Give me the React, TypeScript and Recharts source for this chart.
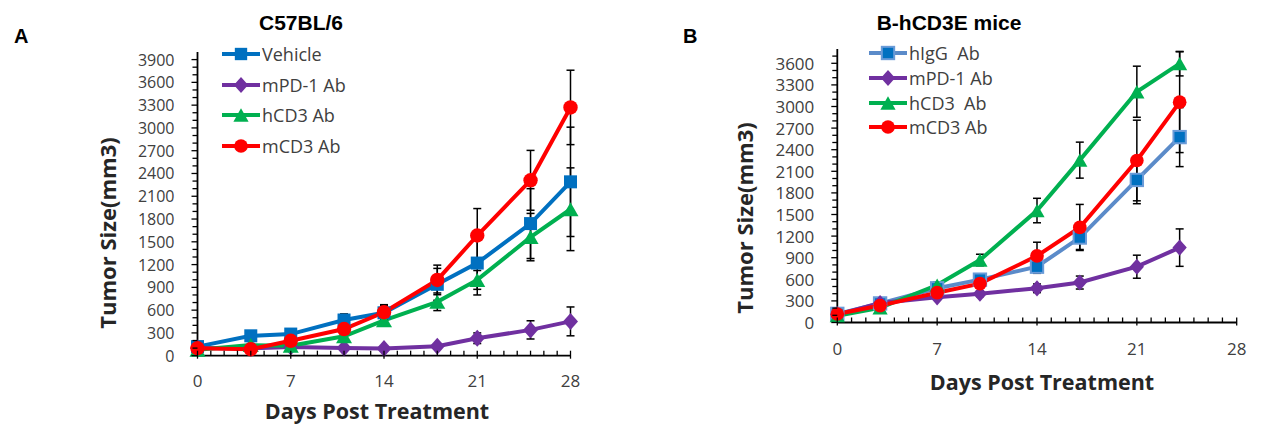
import React from 'react'
import { LineChart, Line, XAxis, YAxis, ErrorBar, Legend } from 'recharts'

// Panel A: C57BL/6
const daysA = [0, 4, 7, 11, 14, 18, 21, 25, 28]
const vehicleA = [120, 262, 285, 470, 565, 940, 1220, 1740, 2290]
const vehicleErrA = [20, 30, 30, 80, 100, 210, 420, 460, 720]
const mpd1A = [100, 95, 115, 100, 95, 125, 230, 340, 452]
const mpd1ErrA = [20, 20, 20, 20, 20, 30, 70, 120, 190]
const hcd3A = [78, 140, 130, 255, 466, 710, 998, 1562, 1929]
const hcd3ErrA = [20, 20, 20, 40, 60, 116, 124, 312, 545]
const mcd3A = [98, 85, 196, 351, 572, 998, 1583, 2310, 3270]
const mcd3ErrA = [20, 20, 30, 50, 100, 195, 355, 394, 490]

// Panel B: B-hCD3E mice
const daysB = [0, 3, 7, 10, 14, 17, 21, 24]
const higgB = [120, 265, 475, 595, 775, 1180, 1980, 2575]
const higgErrB = [20, 30, 40, 40, 92, 166, 330, 410]
const mpd1B = [110, 270, 350, 400, 475, 555, 775, 1040]
const mpd1ErrB = [20, 30, 30, 40, 60, 90, 160, 260]
const hcd3B = [95, 205, 520, 868, 1555, 2255, 3205, 3595]
const hcd3ErrB = [20, 30, 40, 80, 170, 250, 355, 170]
const mcd3B = [118, 235, 414, 540, 925, 1320, 2250, 3060]
const mcd3ErrB = [20, 30, 40, 50, 190, 320, 560, 700]

// axis labels
const yLabelsA = [0, 300, 600, 900, 1200, 1500, 1800, 2100, 2400, 2700, 3000, 3300, 3600, 3900]
const yLabelsB = [0, 300, 600, 900, 1200, 1500, 1800, 2100, 2400, 2700, 3000, 3300, 3600]
const xLabels = [0, 7, 14, 21, 28]

const minorY = (max: number) => Array.from({ length: max / 100 + 1 }, (_, i) => i * 100)
const minorX = Array.from({ length: 29 }, (_, i) => i)

const FONT = "'Open Sans', 'Noto Sans', sans-serif"
const TITLE_FONT = "'Liberation Sans', Arial, sans-serif"
const TEXT = '#404040'

const dataA = daysA.map((d, i) => ({
  day: d,
  vehicle: vehicleA[i], vehicleErr: vehicleErrA[i],
  mpd1: mpd1A[i], mpd1Err: mpd1ErrA[i],
  hcd3: hcd3A[i], hcd3Err: hcd3ErrA[i],
  mcd3: mcd3A[i], mcd3Err: mcd3ErrA[i],
}))

const dataB = daysB.map((d, i) => ({
  day: d,
  higg: higgB[i], higgErr: higgErrB[i],
  mpd1: mpd1B[i], mpd1Err: mpd1ErrB[i],
  hcd3: hcd3B[i], hcd3Err: hcd3ErrB[i],
  mcd3: mcd3B[i], mcd3Err: mcd3ErrB[i],
}))

type Shape = 'square' | 'diamond' | 'triangle' | 'circle'

function Marker({ shape, cx, cy, fill, stroke, s = 1 }: { shape: Shape; cx: number; cy: number; fill: string; stroke?: string; s?: number }) {
  if (shape === 'square') {
    const h = 6.5 * s
    return <rect x={cx - h} y={cy - h} width={h * 2} height={h * 2} fill={fill} stroke={stroke || 'none'} strokeWidth={stroke ? 2 : 0} />
  }
  if (shape === 'diamond') {
    const w = 7.5 * s, h = 8.5 * s
    return <polygon points={`${cx},${cy - h} ${cx + w},${cy} ${cx},${cy + h} ${cx - w},${cy}`} fill={fill} />
  }
  if (shape === 'triangle') {
    const w = 8 * s, h = 7 * s
    return <polygon points={`${cx},${cy - h} ${cx + w},${cy + h} ${cx - w},${cy + h}`} fill={fill} />
  }
  return <circle cx={cx} cy={cy} r={7.2 * s} fill={fill} />
}

const dotFn = (shape: Shape, fill: string, stroke?: string, s = 1) => (p: any) => (
  <Marker key={`${shape}-${p.index}`} shape={shape} cx={p.cx} cy={p.cy} fill={fill} stroke={stroke} s={s} />
)

const makeYTick = (labels: number[], fontSize: number) => (props: any) => {
  const { x, y, payload } = props
  const major = labels.includes(payload.value)
  return (
    <g>
      <line x1={x - (major ? 6 : 5)} x2={x} y1={y} y2={y} stroke="#000" strokeWidth={1.3} />
      {major && (
        <text x={x - 23} y={y} textAnchor="end" dominantBaseline="central" fontSize={fontSize} fill={TEXT} fontFamily={FONT}>
          {payload.value}
        </text>
      )}
    </g>
  )
}

const makeXTick = (fontSize: number, dy: number) => (props: any) => {
  const { x, y, payload } = props
  const major = xLabels.includes(payload.value)
  return (
    <g>
      <line x1={x} x2={x} y1={y - 5} y2={y + (major ? 3 : 0)} stroke="#000" strokeWidth={1.3} />
      {major && (
        <text x={x} y={y + dy} textAnchor="middle" dominantBaseline="central" fontSize={fontSize} fill={TEXT} fontFamily={FONT}>
          {payload.value}
        </text>
      )}
    </g>
  )
}

interface Item { name: string; color: string; shape: Shape; fill: string; stroke?: string }

const makeLegend = (items: Item[], rowH: number) => () => (
  <div style={{ fontFamily: FONT, fontSize: 18, color: TEXT }}>
    {items.map((it) => (
      <div key={it.name} style={{ display: 'flex', alignItems: 'center', height: rowH, whiteSpace: 'pre' }}>
        <svg width={40} height={20} style={{ display: 'block' }}>
          <line x1={1} x2={39} y1={10} y2={10} stroke={it.color} strokeWidth={4} />
          <Marker shape={it.shape} cx={20} cy={10} fill={it.fill} stroke={it.stroke} s={0.95} />
        </svg>
        <span style={{ marginLeft: 1, lineHeight: 1 }}>{it.name}</span>
      </div>
    ))}
  </div>
)

const itemsA: Item[] = [
  { name: 'Vehicle', color: '#0070C0', shape: 'square', fill: '#0070C0' },
  { name: 'mPD-1 Ab', color: '#7030A0', shape: 'diamond', fill: '#7030A0' },
  { name: 'hCD3 Ab', color: '#00B050', shape: 'triangle', fill: '#00B050' },
  { name: 'mCD3 Ab', color: '#FF0000', shape: 'circle', fill: '#FF0000' },
]

const itemsB: Item[] = [
  { name: 'hIgG  Ab', color: '#5B8BC9', shape: 'square', fill: '#0070C0', stroke: '#6A9BD8' },
  { name: 'mPD-1 Ab', color: '#7030A0', shape: 'diamond', fill: '#7030A0' },
  { name: 'hCD3  Ab', color: '#00B050', shape: 'triangle', fill: '#00B050' },
  { name: 'mCD3 Ab', color: '#FF0000', shape: 'circle', fill: '#FF0000' },
]

const abs = (extra: React.CSSProperties): React.CSSProperties => ({ position: 'absolute', whiteSpace: 'nowrap', lineHeight: 1, ...extra })

const errProps = { width: 4, stroke: '#000', strokeWidth: 1.5, isAnimationActive: false } as any

export default function App() {
  return (
    <div style={{ position: 'absolute', left: 0, top: 0, width: 1269, height: 443, background: '#fff', overflow: 'hidden' }}>
      {/* Panel A */}
      <div style={abs({ left: 0, top: 0 })}>
        <LineChart width={620} height={443} data={dataA} margin={{ top: 52, right: 49.5, bottom: 57.3, left: 137.5 }}>
          <XAxis
            dataKey="day" type="number" domain={[0, 28]} ticks={minorX} interval={0}
            tickSize={0} tickMargin={0} tickLine={false} height={30}
            axisLine={{ stroke: '#000', strokeWidth: 1.8 }} tick={makeXTick(17, 25)}
          />
          <YAxis
            type="number" domain={[0, 4000]} ticks={minorY(3900)} interval={0}
            tickSize={0} tickMargin={0} tickLine={false} width={60}
            axisLine={{ stroke: '#000', strokeWidth: 1.8 }} tick={makeYTick(yLabelsA, 16)}
          />
          <Legend layout="vertical" align="center" verticalAlign="middle"
            wrapperStyle={{ left: 221, top: 38.5, width: 'auto' }} content={makeLegend(itemsA, 30.7)} />
          <Line type="linear" dataKey="vehicle" stroke="#0070C0" strokeWidth={4} dot={dotFn('square', '#0070C0')} isAnimationActive={false}>
            <ErrorBar dataKey="vehicleErr" direction="y" {...errProps} />
          </Line>
          <Line type="linear" dataKey="mpd1" stroke="#7030A0" strokeWidth={4} dot={dotFn('diamond', '#7030A0')} isAnimationActive={false}>
            <ErrorBar dataKey="mpd1Err" direction="y" {...errProps} />
          </Line>
          <Line type="linear" dataKey="hcd3" stroke="#00B050" strokeWidth={4} dot={dotFn('triangle', '#00B050')} isAnimationActive={false}>
            <ErrorBar dataKey="hcd3Err" direction="y" {...errProps} />
          </Line>
          <Line type="linear" dataKey="mcd3" stroke="#FF0000" strokeWidth={4} dot={dotFn('circle', '#FF0000')} isAnimationActive={false}>
            <ErrorBar dataKey="mcd3Err" direction="y" {...errProps} />
          </Line>
        </LineChart>
      </div>

      {/* Panel B */}
      <div style={abs({ left: 660, top: 0 })}>
        <LineChart width={609} height={443} data={dataB} margin={{ top: 48.9, right: 32.3, bottom: 90.5, left: 117.3 }}>
          <XAxis
            dataKey="day" type="number" domain={[0, 28]} ticks={minorX} interval={0}
            tickSize={0} tickMargin={0} tickLine={false} height={30}
            axisLine={{ stroke: '#000', strokeWidth: 1.8 }} tick={makeXTick(17, 26)}
          />
          <YAxis
            type="number" domain={[0, 3800]} ticks={minorY(3700)} interval={0}
            tickSize={0} tickMargin={0} tickLine={false} width={60}
            axisLine={{ stroke: '#000', strokeWidth: 1.8 }} tick={makeYTick(yLabelsB, 17)}
          />
          <Legend layout="vertical" align="center" verticalAlign="middle"
            wrapperStyle={{ left: 208, top: 41, width: 'auto' }} content={makeLegend(itemsB, 24.7)} />
          <Line type="linear" dataKey="higg" stroke="#5B8BC9" strokeWidth={4} dot={dotFn('square', '#0070C0', '#6A9BD8', 0.95)} isAnimationActive={false}>
            <ErrorBar dataKey="higgErr" direction="y" {...errProps} />
          </Line>
          <Line type="linear" dataKey="mpd1" stroke="#7030A0" strokeWidth={4} dot={dotFn('diamond', '#7030A0', undefined, 0.95)} isAnimationActive={false}>
            <ErrorBar dataKey="mpd1Err" direction="y" {...errProps} />
          </Line>
          <Line type="linear" dataKey="hcd3" stroke="#00B050" strokeWidth={4} dot={dotFn('triangle', '#00B050', undefined, 0.95)} isAnimationActive={false}>
            <ErrorBar dataKey="hcd3Err" direction="y" {...errProps} />
          </Line>
          <Line type="linear" dataKey="mcd3" stroke="#FF0000" strokeWidth={4} dot={dotFn('circle', '#FF0000', undefined, 0.95)} isAnimationActive={false}>
            <ErrorBar dataKey="mcd3Err" direction="y" {...errProps} />
          </Line>
        </LineChart>
      </div>

      {/* titles and axis names */}
      <div style={abs({ left: 14, top: 26, fontFamily: TITLE_FONT, fontWeight: 700, fontSize: 20, color: '#000' })}>A</div>
      <div style={abs({ left: 683, top: 26, fontFamily: TITLE_FONT, fontWeight: 700, fontSize: 20, color: '#000' })}>B</div>
      <div style={abs({ left: 301, top: 22, transform: 'translate(-50%, -50%)', fontFamily: TITLE_FONT, fontWeight: 700, fontSize: 21, color: '#000' })}>C57BL/6</div>
      <div style={abs({ left: 949, top: 22, transform: 'translate(-50%, -50%)', fontFamily: TITLE_FONT, fontWeight: 700, fontSize: 21, color: '#000' })}>B-hCD3E mice</div>

      <div style={abs({ left: 107, top: 233, transform: 'translate(-50%, -50%) rotate(-90deg)', fontFamily: FONT, fontWeight: 700, fontSize: 22, color: '#262626' })}>Tumor Size(mm3)</div>
      <div style={abs({ left: 744, top: 218, transform: 'translate(-50%, -50%) rotate(-90deg)', fontFamily: FONT, fontWeight: 700, fontSize: 22, color: '#262626' })}>Tumor Size(mm3)</div>
      <div style={abs({ left: 377, top: 411, transform: 'translate(-50%, -50%)', fontFamily: FONT, fontWeight: 700, fontSize: 21.5, color: '#262626' })}>Days Post Treatment</div>
      <div style={abs({ left: 1042, top: 382, transform: 'translate(-50%, -50%)', fontFamily: FONT, fontWeight: 700, fontSize: 21.5, color: '#262626' })}>Days Post Treatment</div>
    </div>
  )
}
